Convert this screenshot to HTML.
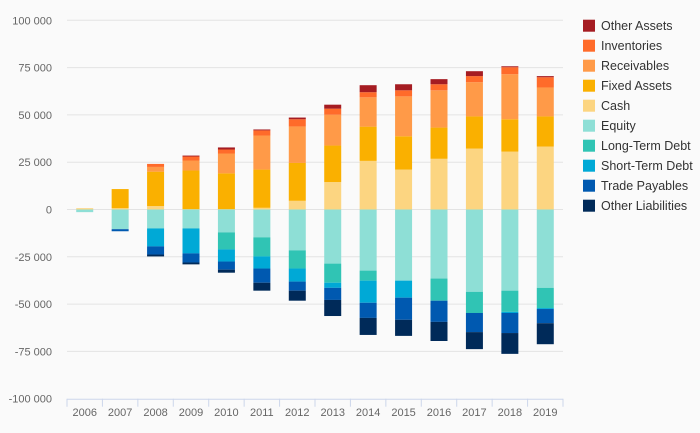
<!DOCTYPE html>
<html><head><meta charset="utf-8">
<style>
html,body{margin:0;padding:0;background:#fafafa;}
svg{display:block;font-family:"Liberation Sans",sans-serif;}
</style></head>
<body>
<svg id="chart" width="700" height="433" viewBox="0 0 700 433" xmlns="http://www.w3.org/2000/svg">
<rect width="700" height="433" fill="#fafafa"/>
<g id="grid"></g>
<g id="yaxis"></g>
<g id="bars"></g>
<g id="xaxis"></g>
<g id="legend"></g>
</svg>
<script>
const years = ["2006","2007","2008","2009","2010","2011","2012","2013","2014","2015","2016","2017","2018","2019"];
const seriesNames = ["Cash","Fixed Assets","Receivables","Inventories","Other Assets","Equity","Long-Term Debt","Short-Term Debt","Trade Payables","Other Liabilities"];
const cash = [700,700,1800,200,200,900,4600,14500,25700,21100,26800,32200,30600,33300];
const fixedAssets = [0,10100,18200,20400,18900,20200,20000,19300,18100,17600,16500,17000,17100,15900];
const receivables = [0,0,2500,5300,10500,18000,19300,16300,15500,21100,19700,18100,23800,15300];
const inventories = [0,0,1600,2100,2100,2700,3800,3200,2700,3200,3200,3200,3700,5400];
const otherAssets = [0,0,0,500,1100,500,900,2100,3700,3200,2700,2600,500,600];
const equity = [-1400,-10400,-10000,-10000,-12100,-14700,-21600,-28600,-32300,-37600,-36500,-43500,-42900,-41400];
const longTermDebt = [0,0,0,0,-9000,-10100,-9600,-10100,-5300,0,-11700,-11200,-11200,-10700];
const shortTermDebt = [0,0,-9500,-13200,-6400,-6400,-6900,-2700,-11700,-9000,0,0,-600,-500];
const tradePayables = [0,-1100,-4300,-4800,-4300,-7500,-4800,-6400,-8000,-11700,-11200,-10100,-10600,-7500];
const otherLiabilities = [0,0,-1000,-1000,-1600,-4200,-5300,-8500,-9000,-8500,-10100,-9000,-11000,-11100];
const yTicks = [100000,75000,50000,25000,0,-25000,-50000,-75000,-100000];
const yTickLabels = ["100 000","75 000","50 000","25 000","0","-25 000","-50 000","-75 000","-100 000"];

const colors = {"Cash":"#fcd581","Fixed Assets":"#fab000","Receivables":"#ff9a48","Inventories":"#ff6b2a","Other Assets":"#a51c22","Equity":"#8edfd6","Long-Term Debt":"#30c4b4","Short-Term Debt":"#00a9d6","Trade Payables":"#0059b0","Other Liabilities":"#002a59"};
const data = {"Cash":cash,"Fixed Assets":fixedAssets,"Receivables":receivables,"Inventories":inventories,"Other Assets":otherAssets,"Equity":equity,"Long-Term Debt":longTermDebt,"Short-Term Debt":shortTermDebt,"Trade Payables":tradePayables,"Other Liabilities":otherLiabilities};

const NS = "http://www.w3.org/2000/svg";
const plotL = 67, plotR = 563, plotT = 20.3, plotB = 398.7;
const yMin = -100000, yMax = 100000;
function y(v){ return plotB - (v - yMin) / (yMax - yMin) * (plotB - plotT); }
const band = (plotR - plotL) / years.length;
function xc(i){ return plotL + band * (i + 0.5); }
const barW = 17;
function mk(tag, attrs, parent){ const e = document.createElementNS(NS, tag); for (const k in attrs) e.setAttribute(k, attrs[k]); parent.appendChild(e); return e; }

const grid = document.getElementById('grid'), yaxis = document.getElementById('yaxis');
yTicks.forEach((t, i) => {
  if (t !== yMin) {
    const l = mk('line', {x1: plotL, x2: plotR, y1: y(t), y2: y(t), stroke: '#e3e3e3', 'stroke-width': 1}, grid);
    
    
  }
  const tx = mk('text', {x: 52, y: y(t) + 4, 'text-anchor': 'end', 'font-size': 11, fill: '#666'}, yaxis);
  tx.textContent = yTickLabels[i];
  
  
});

const bars = document.getElementById('bars');
years.forEach((yr, i) => {
  let pos = 0, neg = 0;
  seriesNames.forEach(s => {
    const v = data[s][i];
    if (!v) return;
    let top, bot;
    if (v > 0) { top = pos + v; bot = pos; pos = top; } else { top = neg; bot = neg + v; neg = bot; }
    const r = mk('rect', {x: xc(i) - barW / 2, y: y(top), width: barW, height: y(bot) - y(top), fill: colors[s]}, bars);
    
    
  });
});

const xaxis = document.getElementById('xaxis');
const ax = mk('line', {x1: plotL, x2: plotR, y1: plotB + 0.5, y2: plotB + 0.5, stroke: '#ccd6eb', 'stroke-width': 1}, xaxis);


for (let i = 0; i <= years.length; i++) {
  const tk = mk('line', {x1: plotL + band * i, x2: plotL + band * i, y1: plotB, y2: plotB + 8, stroke: '#ccd6eb', 'stroke-width': 1}, xaxis);
  
  
}
years.forEach((yr, i) => {
  const tx = mk('text', {x: xc(i), y: 416, 'text-anchor': 'middle', 'font-size': 11, fill: '#666'}, xaxis);
  tx.textContent = yr;
  
  
});

const legend = document.getElementById('legend');
const legendOrder = ["Other Assets","Inventories","Receivables","Fixed Assets","Cash","Equity","Long-Term Debt","Short-Term Debt","Trade Payables","Other Liabilities"];
legendOrder.forEach((s, i) => {
  const cy = 25.7 + i * 20;
  const g = mk('g', {}, legend);
  
  
  mk('rect', {x: 583, y: cy - 6, width: 12, height: 12, fill: colors[s]}, g);
  const t = mk('text', {x: 601, y: cy + 4.5, 'font-size': 12.5, fill: '#333'}, g);
  t.textContent = s;
});
</script>
</body></html>
